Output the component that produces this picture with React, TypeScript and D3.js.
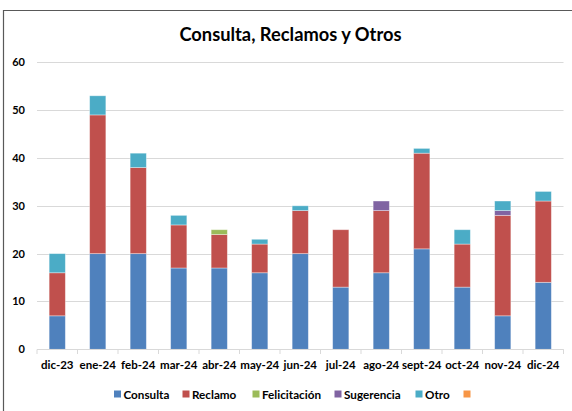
import React, { useEffect } from 'react';
import * as d3 from 'd3';

const months = ['dic-23', 'ene-24', 'feb-24', 'mar-24', 'abr-24', 'may-24', 'jun-24', 'jul-24', 'ago-24', 'sept-24', 'oct-24', 'nov-24', 'dic-24'];
const consulta = [7, 20, 20, 17, 17, 16, 20, 13, 16, 21, 13, 7, 14];
const reclamo = [9, 29, 18, 9, 7, 6, 9, 12, 13, 20, 9, 21, 17];
const felicitacion = [0, 0, 0, 0, 1, 0, 0, 0, 0, 0, 0, 0, 0];
const sugerencia = [0, 0, 0, 0, 0, 0, 0, 0, 2, 0, 0, 1, 0];
const otro = [4, 4, 3, 2, 0, 1, 1, 0, 0, 1, 3, 2, 2];
const vacio = [0, 0, 0, 0, 0, 0, 0, 0, 0, 0, 0, 0, 0];
const yTicks = [0, 10, 20, 30, 40, 50, 60];

const seriesNames = ['Consulta', 'Reclamo', 'Felicitación', 'Sugerencia', 'Otro', ''];
const seriesValues = [consulta, reclamo, felicitacion, sugerencia, otro, vacio];
const colors = ['#4F81BD', '#C0504D', '#9BBB59', '#8064A2', '#4BACC6', '#F79646'];

const W = 572;
const H = 411;
const font = 'Lato, "Open Sans", sans-serif';

export default function App() {
  useEffect(() => {
    document.body.style.margin = '0';
  }, []);

  const x = d3.scaleBand<string>().domain(months).range([37, 563.5]).paddingInner(0.6).paddingOuter(0.3);
  const y = d3.scaleLinear().domain([0, 60]).range([349.3, 62.3]);

  const table = months.map((m, i) => {
    const row: Record<string, number | string> = { month: m };
    seriesNames.forEach((_, k) => (row['s' + k] = seriesValues[k][i]));
    return row;
  });
  const keys = seriesNames.map((_, k) => 's' + k);
  const stacked = d3.stack<any>().keys(keys)(table);

  const step = x.step();
  const boundaries = d3.range(months.length + 1).map(i => 37 + i * step);

  const legendX = [114, 182.5, 252.5, 334.5, 415.5, 463.5];

  return (
    <svg width={W} height={H} style={{ display: 'block', background: '#fff' }}>
      {/* chart border: only top and left visible */}
      <path d={`M3.5,${H} V10.5 H${W}`} fill="none" stroke="#595959" strokeWidth={1.2} />

      <text x={290.5} y={41} textAnchor="middle" fontFamily={font} fontWeight="bold" fontSize={18.3} fill="#000">
        Consulta, Reclamos y Otros
      </text>

      {yTicks.map(t => (
        <g key={t}>
          <line x1={37} x2={563.5} y1={Math.round(y(t)) + 0.5} y2={Math.round(y(t)) + 0.5} stroke="#D9D9D9" strokeWidth={1} />
          <text x={25} y={y(t) + 4} textAnchor="end" fontFamily={font} fontWeight="bold" fontSize={11} fill="#000">
            {t}
          </text>
        </g>
      ))}

      {stacked.map((layer, k) => (
        <g key={k} fill={colors[k]}>
          {layer.map((d, i) =>
            d[1] - d[0] > 0 ? (
              <rect
                key={i}
                x={x(months[i])}
                y={y(d[1])}
                width={x.bandwidth()}
                height={y(d[0]) - y(d[1])}
                stroke="#ffffff"
                strokeOpacity={0.45}
                strokeWidth={0.8}
              />
            ) : null
          )}
        </g>
      ))}

      <line x1={37} x2={563.5} y1={349.5} y2={349.5} stroke="#D9D9D9" strokeWidth={1} />
      {boundaries.map((bx, i) => (
        <line key={i} x1={bx} x2={bx} y1={349.5} y2={354} stroke="#D9D9D9" strokeWidth={1} />
      ))}

      {months.map(m => (
        <text key={m} x={(x(m) as number) + x.bandwidth() / 2} y={369} textAnchor="middle" fontFamily={font} fontWeight="bold" fontSize={11.5} fill="#000">
          {m}
        </text>
      ))}

      {seriesNames.map((n, k) => (
        <g key={k}>
          <rect x={legendX[k]} y={390.5} width={7} height={7} fill={colors[k]} />
          <text x={legendX[k] + 9.5} y={398.5} fontFamily={font} fontWeight="bold" fontSize={11.7} fill="#000">
            {n}
          </text>
        </g>
      ))}
    </svg>
  );
}
